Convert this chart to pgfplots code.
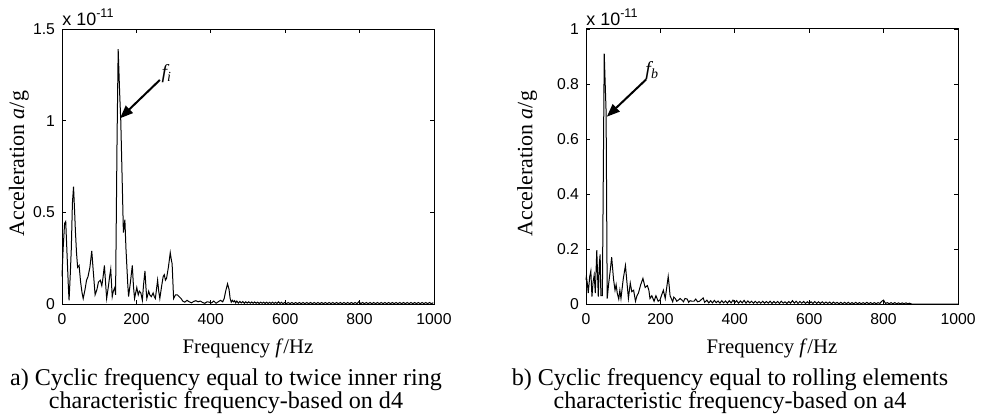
\documentclass[border=0pt]{standalone}
\usepackage{fontspec}
\setmainfont{Liberation Serif}
\newfontfamily\arial{Liberation Sans}
\usepackage{pgfplots}
\pgfplotsset{compat=1.18}
\usetikzlibrary{arrows.meta}

\pgfplotsset{
  spec/.style={
    width=186bp, height=137.5bp, scale only axis,
    anchor=south west, clip=false,
    xmin=0, xmax=1000, ymin=0,
    xtick={0,200,...,1000},
    tick align=inside, major tick length=2bp,
    axis line style={line width=0.5bp},
    every tick/.style={black, line width=0.4bp},
    tick label style={font=\arial\fontsize{7.9}{9}\selectfont},
    xticklabel style={yshift=-1bp},
    /pgf/number format/assume math mode=true,
    /pgf/number format/1000 sep={},
    scaled y ticks=false,
    xlabel={Frequency \textit{f}/Hz},
    ylabel={Acceleration \textit{a}/g},
    xlabel style={font=\fontsize{10.4}{12}\selectfont, at={(axis description cs:0.5,-0.179)}, anchor=base},
  },
  trace/.style={black, line width=0.5bp, mark=none},
}
\newcommand{\mult}{\arial\fontsize{9}{10}\selectfont x 10\raisebox{0.42em}{\fontsize{6.3}{7}\selectfont -11}}

\begin{document}
\begin{tikzpicture}
\useasboundingbox (0,0) rectangle (493bp,207.5bp);

% a) inner ring, d4
\begin{axis}[spec, at={(31bp,55.5bp)}, ymax=1.5, ytick={0,0.5,1,1.5},
  ylabel style={font=\fontsize{11}{12}\selectfont, at={(axis description cs:-0.116,0.51)}, anchor=center}]
\addplot[trace] coordinates {
(0,0.15)(3,0.3)(7,0.44)(10,0.45)(13,0.3)(17,0.1)(19,0.02)(22,0.15)(25,0.3)(28,0.55)(31,0.64)(34,0.5)(36,0.4)(39,0.28)(42,0.2)(46,0.21)(50,0.12)(54,0.06)(57,0.03)(62,0.08)(66,0.13)(70,0.15)(75,0.2)(80,0.29)(84,0.18)(89,0.05)(94,0.08)(98,0.12)(103,0.13)(107,0.1)(110,0.14)(114,0.21)(117,0.12)(120,0.03)(125,0.1)(128,0.15)(131,0.19)(135,0.04)(138,0.07)(142,0.09)(144,0.05)(148,0.9)(151,1.39)(155,1.15)(158,1.0)(163,0.57)(165,0.39)(169,0.46)(172,0.3)(177,0.1)(179,0.04)(184,0.12)(189,0.21)(192,0.1)(195,0.03)(198,0.06)(201,0.09)(205,0.05)(208,0.07)(212,0.06)(216,0.02)(219,0.1)(223,0.18)(226,0.08)(228,0.03)(233,0.07)(236,0.05)(240,0.04)(245,0.06)(248,0.04)(251,0.03)(254,0.08)(257,0.13)(260,0.07)(263,0.03)(268,0.1)(272,0.15)(275,0.16)(278,0.13)(281,0.14)(286,0.2)(291,0.28)(294,0.24)(296,0.22)(300,0.03)(305,0.05)(310,0.05)(315,0.04)(320,0.03)(325,0.015)
(330,0.01)(336,0.02)(342,0.012)(348,0.006)(354,0.014)(360,0.018)(366,0.012)(372,0.016)(378,0.008)(384,0.004)(390,0.012)(396,0.01)(402,0.006)(408,0.016)(414,0.004)(420,0.012)(426,0.02)(432,0.012)(436,0.03)(440,0.07)(445,0.11)(449,0.08)(452,0.03)(455,0.01)
(458,0.02)(461,0.012)(464,0.018)(467,0.006)(470,0.016)(474,0.005)(478,0.014)(482,0.006)(486,0.013)(490,0.004)(494,0.012)(498,0.005)(502,0.012)(506,0.004)(510,0.011)(514,0.004)(518,0.011)(522,0.004)(526,0.01)(530,0.003)(534,0.01)(538,0.004)(542,0.01)(546,0.003)(550,0.01)(554,0.003)(558,0.009)(562,0.003)(566,0.01)(570,0.003)(574,0.009)(578,0.003)(582,0.012)(586,0.003)(590,0.009)(594,0.002)(598,0.008)
(603,0.002)(608,0.008)(613,0.002)(618,0.008)(623,0.002)(628,0.008)(633,0.002)(638,0.008)(643,0.002)(648,0.008)(653,0.002)(658,0.008)(663,0.002)(668,0.008)(673,0.002)(678,0.008)(683,0.002)(688,0.008)(693,0.002)(698,0.008)(703,0.002)(708,0.008)(713,0.002)(718,0.008)(723,0.002)(728,0.008)(733,0.002)(738,0.008)(743,0.002)(748,0.008)(753,0.002)(758,0.008)(763,0.002)(768,0.008)(773,0.002)(778,0.008)(783,0.002)(788,0.008)(793,0.002)(798,0.012)(803,0.002)(808,0.008)(813,0.002)(818,0.008)(823,0.002)(828,0.008)(833,0.002)(838,0.008)(843,0.002)(848,0.008)(853,0.002)(858,0.008)(863,0.002)(868,0.008)(873,0.002)(878,0.008)(883,0.002)(888,0.008)(893,0.002)(898,0.008)(903,0.002)(908,0.008)(913,0.002)(918,0.008)(923,0.002)(928,0.008)(933,0.002)(938,0.008)(943,0.002)(948,0.008)(953,0.002)(958,0.008)(963,0.002)(968,0.008)(973,0.002)(978,0.008)(983,0.002)(988,0.008)(993,0.002)(998,0.007)
};
\draw[-{Triangle[length=6.5bp,width=5bp]}, line width=1bp] (axis cs:263,1.222) -- (axis cs:156,1.013);
\node[font=\itshape\fontsize{10}{12}\selectfont] at (axis cs:282,1.255) {f\textsubscript{i}};
\node[anchor=base west, inner sep=0pt] at ([yshift=2bp]rel axis cs:0,1) {\mult};
\end{axis}

% b) rolling elements, a4
\begin{axis}[spec, at={(293bp,55.5bp)}, ymax=1, ytick={0,0.2,...,1},
  ylabel style={font=\fontsize{11}{12}\selectfont, at={(axis description cs:-0.158,0.51)}, anchor=center}]
\addplot[trace] coordinates {
(0,0.087)(1,0.1)(4,0.07)(6,0.04)(10,0.1)(13,0.12)(16,0.027)(19,0.08)(22,0.105)(25,0.04)(29,0.196)(33,0.027)(36,0.15)(38,0.18)(40,0.03)(44,0.03)(49,0.91)(54,0.7)(57,0.02)(61,0.075)(65,0.12)(69,0.17)(74,0.09)(78,0.05)(81,0.07)(84,0.04)(88,0.018)(91,0.05)(94,0.02)(100,0.09)(106,0.14)(110,0.08)(114,0.02)(119,0.076)(123,0.045)(128,0.05)(133,0.01)(137,0.03)(141,0.04)(147,0.07)(153,0.093)(159,0.06)(165,0.067)(169,0.05)(172,0.02)(177,0.03)(183,0.01)(188,0.03)(194,0.01)(199,0.015)(204,0.035)(208,0.05)(213,0.02)(217,0.06)(221,0.1)(224,0.06)(226,0.03)(233,0.008)(236,0.025)(240,0.02)(244,0.01)(249,0.015)(253,0.02)(258,0.014)(262,0.008)(266,0.02)(272,0.018)(276,0.006)(280,0.012)(285,0.01)(290,0.01)(295,0.018)(300,0.008)(305,0.01)(310,0.016)(315,0.022)(319,0.006)
(325,0.014)(330,0.004)(335,0.012)(340,0.004)(345,0.013)(350,0.005)(355,0.011)(360,0.003)(365,0.012)(370,0.004)(375,0.011)(380,0.003)(385,0.012)(390,0.004)(395,0.014)(400,0.005)(405,0.012)(410,0.003)(415,0.011)(420,0.004)(425,0.013)(430,0.003)(435,0.011)(440,0.004)(445,0.01)(450,0.003)(455,0.01)(460,0.003)(465,0.009)(470,0.003)(475,0.01)(480,0.003)(485,0.009)(490,0.003)(495,0.01)(500,0.002)(505,0.009)(510,0.003)(515,0.009)(520,0.002)(525,0.01)(530,0.003)(535,0.008)(540,0.002)(545,0.009)(550,0.003)(555,0.012)(560,0.003)(565,0.01)(570,0.002)(575,0.009)(580,0.003)(585,0.009)(590,0.002)(595,0.008)(600,0.002)
(605,0.008)(610,0.002)(615,0.009)(620,0.002)(625,0.008)(630,0.002)(635,0.008)(640,0.002)(645,0.007)(650,0.002)(655,0.007)(660,0.001)(665,0.007)(670,0.002)(675,0.006)(680,0.001)(685,0.006)(690,0.001)(695,0.006)(700,0.001)(705,0.006)(710,0.001)(715,0.005)(720,0.001)(725,0.006)(730,0.001)(735,0.005)(740,0.001)(745,0.005)(750,0.001)(755,0.006)(760,0.001)(765,0.005)(770,0.001)(775,0.005)(780,0.001)(785,0.005)(790,0.002)(795,0.01)(800,0.014)(805,0.002)(810,0.005)(815,0.001)(820,0.005)(825,0.001)(830,0.005)(835,0.001)(840,0.004)(845,0.001)(850,0.004)(855,0.001)(860,0.004)(865,0.001)(870,0.003)(875,0)(1000,0)
};
\draw[-{Triangle[length=6.5bp,width=5bp]}, line width=1bp] (axis cs:162,0.817) -- (axis cs:56,0.681);
\node[font=\itshape\fontsize{10}{12}\selectfont] at (axis cs:178,0.85) {f\textsubscript{b}};
\node[anchor=base west, inner sep=0pt] at ([yshift=2bp]rel axis cs:0,1) {\mult};
\end{axis}

\begin{scope}[every node/.style={font=\fontsize{12.1}{13}\selectfont, anchor=base, inner sep=0pt}]
\node at (113bp,15bp) {a) Cyclic frequency equal to twice inner ring};
\node at (113bp,3.5bp) {characteristic frequency-based on d4};
\node at (365bp,15bp) {b) Cyclic frequency equal to rolling elements};
\node at (365bp,3.5bp) {characteristic frequency-based on a4};
\end{scope}
\end{tikzpicture}
\end{document}
